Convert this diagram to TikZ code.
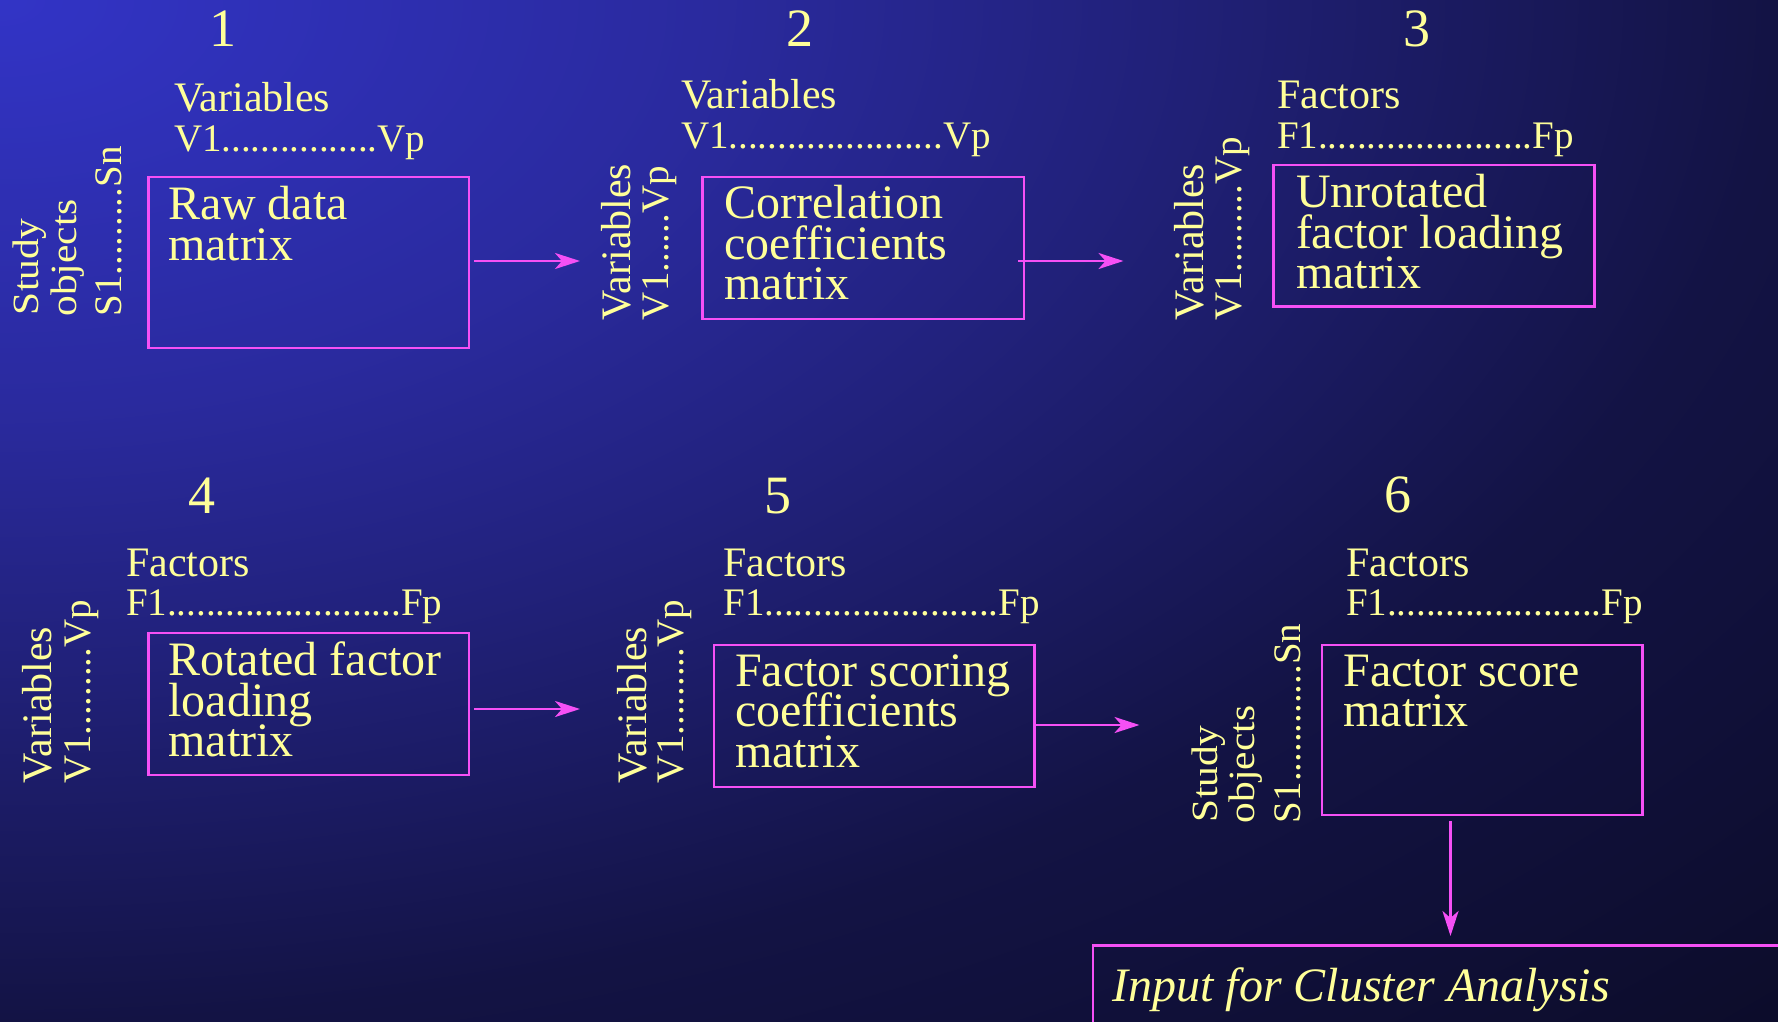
\documentclass[tikz,border=0pt]{standalone}
\usepackage{fontspec}
\setmainfont{Liberation Serif}
\usepackage{graphicx}
\usetikzlibrary{arrows.meta,fit}
\definecolor{txt}{RGB}{255,255,153}
\definecolor{mag}{RGB}{245,80,245}
\definecolor{bgA}{RGB}{50,52,198}
\definecolor{bgB}{RGB}{42,42,158}
\definecolor{bgC}{RGB}{33,33,122}
\definecolor{bgD}{RGB}{19,19,68}
\definecolor{bgE}{RGB}{12,12,42}
\pgfdeclareradialshading{bgshade}{\pgfpoint{0bp}{0bp}}{color(0bp)=(bgA); color(10bp)=(bgB); color(16.25bp)=(bgC); color(25bp)=(bgD); color(35.5bp)=(bgE); color(50bp)=(bgE)}
\newcount\dotcnt
\newcommand\mkdots[1]{\dotcnt=0 \loop\ifnum\dotcnt<#1 .\advance\dotcnt by 1 \repeat}
\setlength{\lineskiplimit}{-20pt}
\begin{document}
\begin{tikzpicture}[x=0.5pt,y=-0.5pt,
  lbl/.style={text=txt, inner sep=0pt, outer sep=0pt},
  num/.style={lbl, anchor=base, font={\fontsize{27}{27}\selectfont}},
  head/.style={lbl, anchor=base west, font={\fontsize{21}{21}\selectfont}},
  dotl/.style={lbl, anchor=base west, font={\fontsize{19.5}{19.5}\selectfont}},
  rhead/.style={head, rotate=90},
  rdotl/.style={dotl, rotate=90},
  rstudy/.style={lbl, anchor=base west, rotate=90, font={\fontsize{18.5}{18.5}\selectfont}},
  mbox/.style={draw=mag, line width=1.4pt, inner sep=0pt, outer sep=0pt},
  btext/.style={lbl, anchor=north west, align=left, font={\fontsize{24}{20.25}\selectfont}},
  itext/.style={lbl, anchor=base west, font={\fontsize{24}{24}\selectfont\itshape}},
  arr/.style={draw=mag, line width=1.4pt, -{Stealth[length=12.5pt,width=8pt,inset=3.5pt]}}
]
\useasboundingbox (0,0) rectangle (1778,1022);
\begin{scope}
\clip (0,0) rectangle (1778,1022);
\shade[shading=bgshade] (-1778,-1022) rectangle (1778,1022);

% numbers
\node[num] (n1) at (223,47) {1};
\node[num] (n2) at (800,47) {2};
\node[num] (n3) at (1417,47) {3};
\node[num] (n4) at (202,513) {4};
\node[num] (n5) at (778,513) {5};
\node[num] (n6) at (1397.5,512) {6};

% column headings
\node[head] (h1) at (174,111.5) {Variables};
\node[head] (h2) at (681,108.5) {Variables};
\node[head] (h3) at (1277,108.5) {Factors};
\node[head] (h4) at (126,576.5) {Factors};
\node[head] (h5) at (723.5,576.5) {Factors};
\node[head] (h6) at (1346,576.5) {Factors};

\node[dotl] (d1) at (174,151.5) {V1\mkdots{16}Vp};
\node[dotl] (d2) at (681,148.5) {V1\mkdots{22}Vp};
\node[dotl] (d3) at (1277,148.5) {F1\mkdots{22}Fp};
\node[dotl] (d4) at (126,615) {F1\mkdots{24}Fp};
\node[dotl] (d5) at (723.5,615) {F1\mkdots{24}Fp};
\node[dotl] (d6) at (1346,615) {F1\mkdots{22}Fp};

% row headings (rotated)
\node[rstudy] (r1a) at (39,315) {\scalebox{1.12}[1]{Study}};
\node[rstudy] (r1b) at (76,316.5) {\scalebox{1.12}[1]{objects}};
\node[rdotl] (r1c) at (121.5,316.5) {S1\mkdots{9}Sn};
\node[rhead] (r2a) at (630,320) {Variables};
\node[rdotl] (r2b) at (668.5,320) {V1\mkdots{6}Vp};
\node[rhead] (r3a) at (1203,320) {Variables};
\node[rdotl] (r3b) at (1241.5,320) {V1\mkdots{9}Vp};
\node[rhead] (r4a) at (51.5,783) {Variables};
\node[rdotl] (r4b) at (90,783) {V1\mkdots{9}Vp};
\node[rhead] (r5a) at (646,783) {Variables};
\node[rdotl] (r5b) at (683,783) {V1\mkdots{9}Vp};
\node[rstudy] (r6a) at (1217,822) {\scalebox{1.12}[1]{Study}};
\node[rstudy] (r6b) at (1254,823) {\scalebox{1.12}[1]{objects}};
\node[rdotl] (r6c) at (1300,823) {S1\mkdots{12}Sn};

% boxes
\node[mbox, fit={(148.5,177) (469,348)}] (b1) {};
\node[mbox, fit={(702.5,177) (1024,319)}] (b2) {};
\node[mbox, fit={(1273.5,165) (1594.5,306.5)}] (b3) {};
\node[mbox, fit={(148.5,633) (469,775)}] (b4) {};
\node[mbox, fit={(714,645) (1034.5,787)}] (b5) {};
\node[mbox, fit={(1322,645) (1642.5,815)}] (b6) {};
\node[mbox, fit={(1093,945.5) (1800,1060)}] (b7) {};

% box texts
\node[btext] (t1) at (168,186.5) {Raw data\\matrix};
\node[btext] (t2) at (724.5,185.5) {Correlation\\coefficients\\matrix};
\node[btext] (t3) at (1296,174.5) {Unrotated\\factor loading\\matrix};
\node[btext] (t4) at (168.5,642) {Rotated factor\\loading\\matrix};
\node[btext] (t5) at (735,654.5) {Factor scoring\\coefficients\\matrix};
\node[btext] (t6) at (1343.5,655) {Factor score\\matrix};
\node[itext] (t7) at (1112.5,1001.5) {Input for Cluster Analysis};

% arrows
\coordinate (c1) at (580,261);
\coordinate (c2) at (1123.5,261);
\coordinate (c4) at (580,709);
\coordinate (c5) at (1139.5,725);
\coordinate (c6) at (1450.5,936);
\draw[arr] (b1.east |- c1) ++(5,0) -- (c1);
\draw[arr] (b2.east |- c2) ++(-6,0) -- (c2);
\draw[arr] (b4.east |- c4) ++(5,0) -- (c4);
\draw[arr] (b5.east |- c5) -- (c5);
\draw[arr] (b6.south -| c6) ++(0,6) -- (c6);
\end{scope}
\end{tikzpicture}
\end{document}
